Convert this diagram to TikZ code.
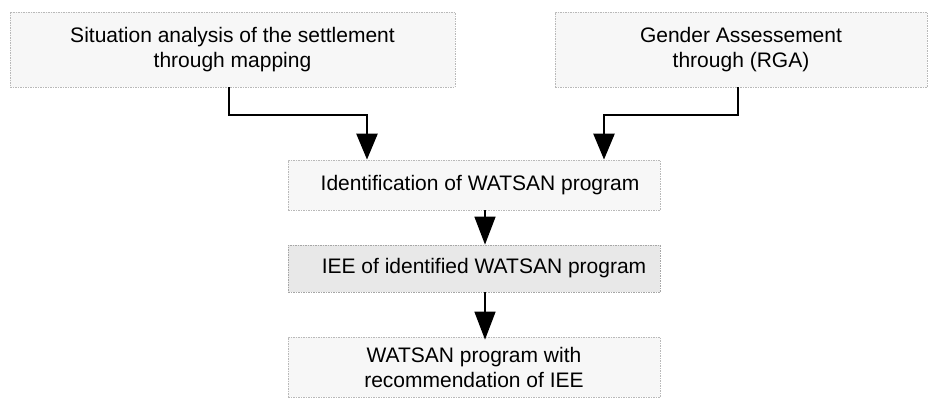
\documentclass[tikz,border=0pt]{standalone}
\usepackage{fontspec}
\setmainfont{Liberation Sans}
\usetikzlibrary{arrows.meta,positioning,patterns}
\begin{document}
\begin{tikzpicture}[x=1pt,y=-1pt,
  box/.style={draw=gray!55,line width=0.8pt,dash pattern=on 1.5pt off 1pt,fill=gray!6,inner sep=0pt,align=center,font=\fontsize{21}{25}\selectfont},
  darkbox/.style={box,fill=gray!18,draw=gray!70},
  thickarrow/.style={line width=2.6pt,-{Triangle[length=26pt,width=21pt]}},
  thinarrow/.style={line width=1.6pt,-{Triangle[length=28pt,width=21pt]}}]
\useasboundingbox (0,0) rectangle (929,397);
\node[box,minimum width=445pt,minimum height=75pt] (sit) at (232.5,49.5) {Situation analysis of the settlement\\through mapping};
\node[box,minimum width=372pt,minimum height=75pt] (gen) at (741,49.5) {Gender Assessement\\through (RGA)};
\node[box,minimum width=372pt,minimum height=50pt] (ident) at (474,185) {\hspace*{12pt}Identification of WATSAN program};
\node[darkbox,minimum width=372pt,minimum height=47pt] (iee) at (474,268.5) {\hspace*{20pt}IEE of identified WATSAN program};
\node[box,minimum width=372pt,minimum height=60pt] (rec) at (474,367) {WATSAN program with\\recommendation of IEE};
\coordinate (c1) at (229,115);
\coordinate (c2) at (367,115);
\coordinate (c3) at (738,115);
\coordinate (c4) at (604,115);
\draw[thickarrow] (sit.south -| c1) -- (c1) -- (c2) -- (c2 |- ident.north);
\draw[thickarrow] (gen.south -| c3) -- (c3) -- (c4) -- (c4 |- ident.north);
\coordinate (m) at (485,0);
\draw[thinarrow] (ident.south -| m) -- (iee.north -| m);
\draw[thinarrow] (iee.south -| m) -- ([yshift=-3pt]rec.north -| m);
\end{tikzpicture}
\end{document}
